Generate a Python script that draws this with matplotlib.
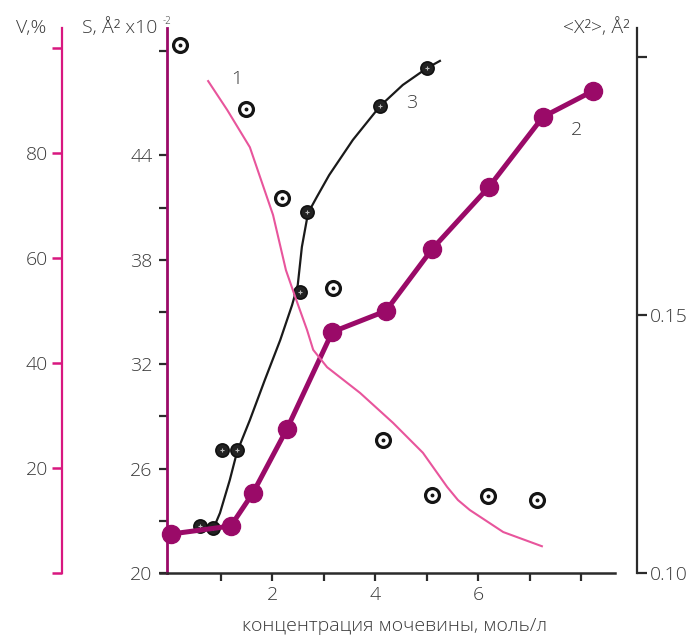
import matplotlib
matplotlib.use("Agg")
import matplotlib.pyplot as plt
from matplotlib.lines import Line2D

plt.rcParams['font.family'] = ['Open Sans', 'DejaVu Sans']

# ---------------- data ----------------
# curve 1: V, % (pink line)
v_x = [0.76, 1.13, 1.57, 2.02, 2.27, 2.45, 2.68, 2.80, 3.07, 3.71, 4.35, 4.93, 5.40, 5.61, 5.84, 6.49, 7.24]
v_y = [93.7, 88.2, 81.1, 68.2, 57.7, 52.6, 46.3, 42.5, 39.2, 34.3, 28.6, 22.9, 16.4, 13.9, 12.0, 7.8, 5.1]

# open circles: <X^2>, A^2
msd_x = [0.21, 1.50, 2.19, 3.18, 4.16, 5.11, 6.19, 7.15]
msd_y = [0.2023, 0.1900, 0.1727, 0.1552, 0.1258, 0.1152, 0.1150, 0.1142]

# curve 2: S (magenta, filled circles)
s2_x = [0.04, 1.20, 1.63, 2.29, 3.17, 4.21, 5.11, 6.21, 7.26, 8.23]
s2_y = [22.24, 22.70, 24.60, 28.28, 33.85, 35.06, 38.62, 42.18, 46.21, 47.70]

# curve 3: S (black) points and traced line
s3_x = [0.60, 0.85, 1.03, 1.32, 2.54, 2.68, 4.10, 5.01]
s3_y = [22.69, 22.60, 27.05, 27.05, 36.15, 40.75, 46.84, 49.02]
s3_line_x = [0.60, 0.85, 0.99, 1.18, 1.32, 1.57, 1.86, 2.16, 2.39, 2.50, 2.58, 2.70, 2.87, 3.11, 3.57, 4.10, 4.54, 5.01, 5.26]
s3_line_y = [22.59, 22.47, 23.45, 25.34, 26.95, 28.79, 31.09, 33.39, 35.40, 36.55, 38.74, 40.69, 41.61, 42.87, 44.89, 46.84, 48.05, 49.02, 49.43]

x_ticks = [1, 2, 3, 4, 5, 6, 7, 8]
x_labels = ['', '2', '', '4', '', '6', '', '']
s_ticks = [20, 23, 26, 29, 32, 35, 38, 41, 44, 50]
s_labels = ['20', '', '26', '', '32', '', '38', '', '44', '']
v_ticks = [0, 20, 40, 60, 80, 100]
v_labels = ['', '20', '40', '60', '80', '']
r_ticks = [0.10, 0.15, 0.20]
r_labels = ['0.10', '0.15', '']

# ---------------- style ----------------
W, H = 694, 637
TXT = '#3a3a3a'
DARK = '#2b2b2b'
C_S = '#9a0a68'       # curve 2 / S axis
C_V = '#d8177f'       # V axis
C_1 = '#e8559c'       # curve 1
FS = 14

fig = plt.figure(figsize=(W / 100, H / 100), dpi=100)
left, right, top, bottom = 167, 615, 28, 573
ax = fig.add_axes([left / W, 1 - bottom / H, (right - left) / W, (bottom - top) / H])

ax.set_xlim(-0.039, -0.039 + (right - left) / 51.5)
ax.set_ylim(20, 20 + (bottom - top) / 17.4)

for sp in ['top', 'right']:
    ax.spines[sp].set_visible(False)
ax.spines['left'].set_color(C_S)
ax.spines['left'].set_linewidth(2.0)
ax.spines['bottom'].set_color(DARK)
ax.spines['bottom'].set_linewidth(1.8)
ax.set_xticks(x_ticks)
ax.set_xticklabels(x_labels)
ax.set_yticks(s_ticks)
ax.set_yticklabels(s_labels)
ax.tick_params(axis='x', direction='out', length=6, width=1.6, color=DARK,
               labelsize=FS, labelcolor=TXT, pad=3)
ax.tick_params(axis='y', direction='out', length=5.5, width=1.6, color=DARK,
               labelsize=FS, labelcolor=TXT, pad=5)
for lab in ax.get_xticklabels() + ax.get_yticklabels():
    lab.set_fontweight('light')
# small extension of bottom axis to the left
ax.add_line(Line2D([-7 / (right - left), 0], [0, 0], transform=ax.transAxes,
                   color=DARK, lw=1.8, clip_on=False))

# V axis (left, outer)
axv = ax.twinx()
axv.set_ylim(0, (bottom - top) / 5.25)
for sp in ['top', 'right', 'bottom']:
    axv.spines[sp].set_visible(False)
axv.spines['left'].set_visible(True)
axv.spines['left'].set_position(('axes', -105 / (right - left)))
axv.spines['left'].set_color(C_V)
axv.spines['left'].set_linewidth(1.6)
axv.yaxis.set_ticks_position('left')
axv.yaxis.set_label_position('left')
axv.set_yticks(v_ticks)
axv.set_yticklabels(v_labels)
axv.tick_params(axis='y', direction='out', length=7, width=1.8, color=C_V,
                labelsize=FS, labelcolor=TXT, pad=3)
for lab in axv.get_yticklabels():
    lab.set_fontweight('light')

# right axis <X^2>
axr = ax.twinx()
axr.set_ylim(0.10, 0.10 + (bottom - top) / 5160)
for sp in ['top', 'left', 'bottom']:
    axr.spines[sp].set_visible(False)
axr.spines['right'].set_position(('axes', 1 + 22 / (right - left)))
axr.spines['right'].set_color(DARK)
axr.spines['right'].set_linewidth(1.6)
axr.set_yticks(r_ticks)
axr.set_yticklabels(r_labels)
axr.tick_params(axis='y', direction='out', length=7, width=1.6, color=DARK,
                labelsize=FS, labelcolor=TXT, pad=2)
for lab in axr.get_yticklabels():
    lab.set_fontweight('light')

# ---------------- data drawing ----------------
axv.plot(v_x, v_y, color=C_1, lw=1.5, zorder=2)

axr.plot(msd_x, msd_y, linestyle='none', marker='o', ms=10, mfc='white',
         mec='#151515', mew=2.3, zorder=5)
axr.plot(msd_x, msd_y, linestyle='none', marker='o', ms=1.8, mfc='#151515',
         mec='#151515', zorder=6)

ax.plot(s3_line_x, s3_line_y, color='#1a1a1a', lw=1.6, zorder=3)
ax.plot(s3_x, s3_y, linestyle='none', marker='o', ms=9.5, mfc='#222222',
        mec='#111111', mew=1.2, zorder=4)
ax.plot(s3_x, s3_y, linestyle='none', marker='+', ms=3.5, mec='#bbbbbb',
        mew=0.8, zorder=5)

ax.plot(s2_x, s2_y, color=C_S, lw=3.6, marker='o', ms=13, mfc=C_S, mec=C_S,
        zorder=6, clip_on=False)

# ---------------- texts ----------------
def ftext(px, py, s, fs=FS, **kw):
    fig.text(px / W, 1 - py / H, s, fontsize=fs, color=TXT, fontweight='light', **kw)

ftext(31, 28, 'V,%', ha='center', va='center')
ftext(82, 28, 'S, Å² x10', ha='left', va='center')
ftext(163, 21, '-2', fs=7, ha='left', va='center')
ftext(630, 28, '<X²>, Å²', ha='right', va='center')
ftext(237, 79, '1', ha='center', va='center')
ftext(412, 103, '3', ha='center', va='center')
ftext(577, 130, '2', ha='center', va='center')
ftext(395, 626, 'концентрация мочевины, моль/л', ha='center', va='center')

fig.savefig('out.png', dpi=100)
